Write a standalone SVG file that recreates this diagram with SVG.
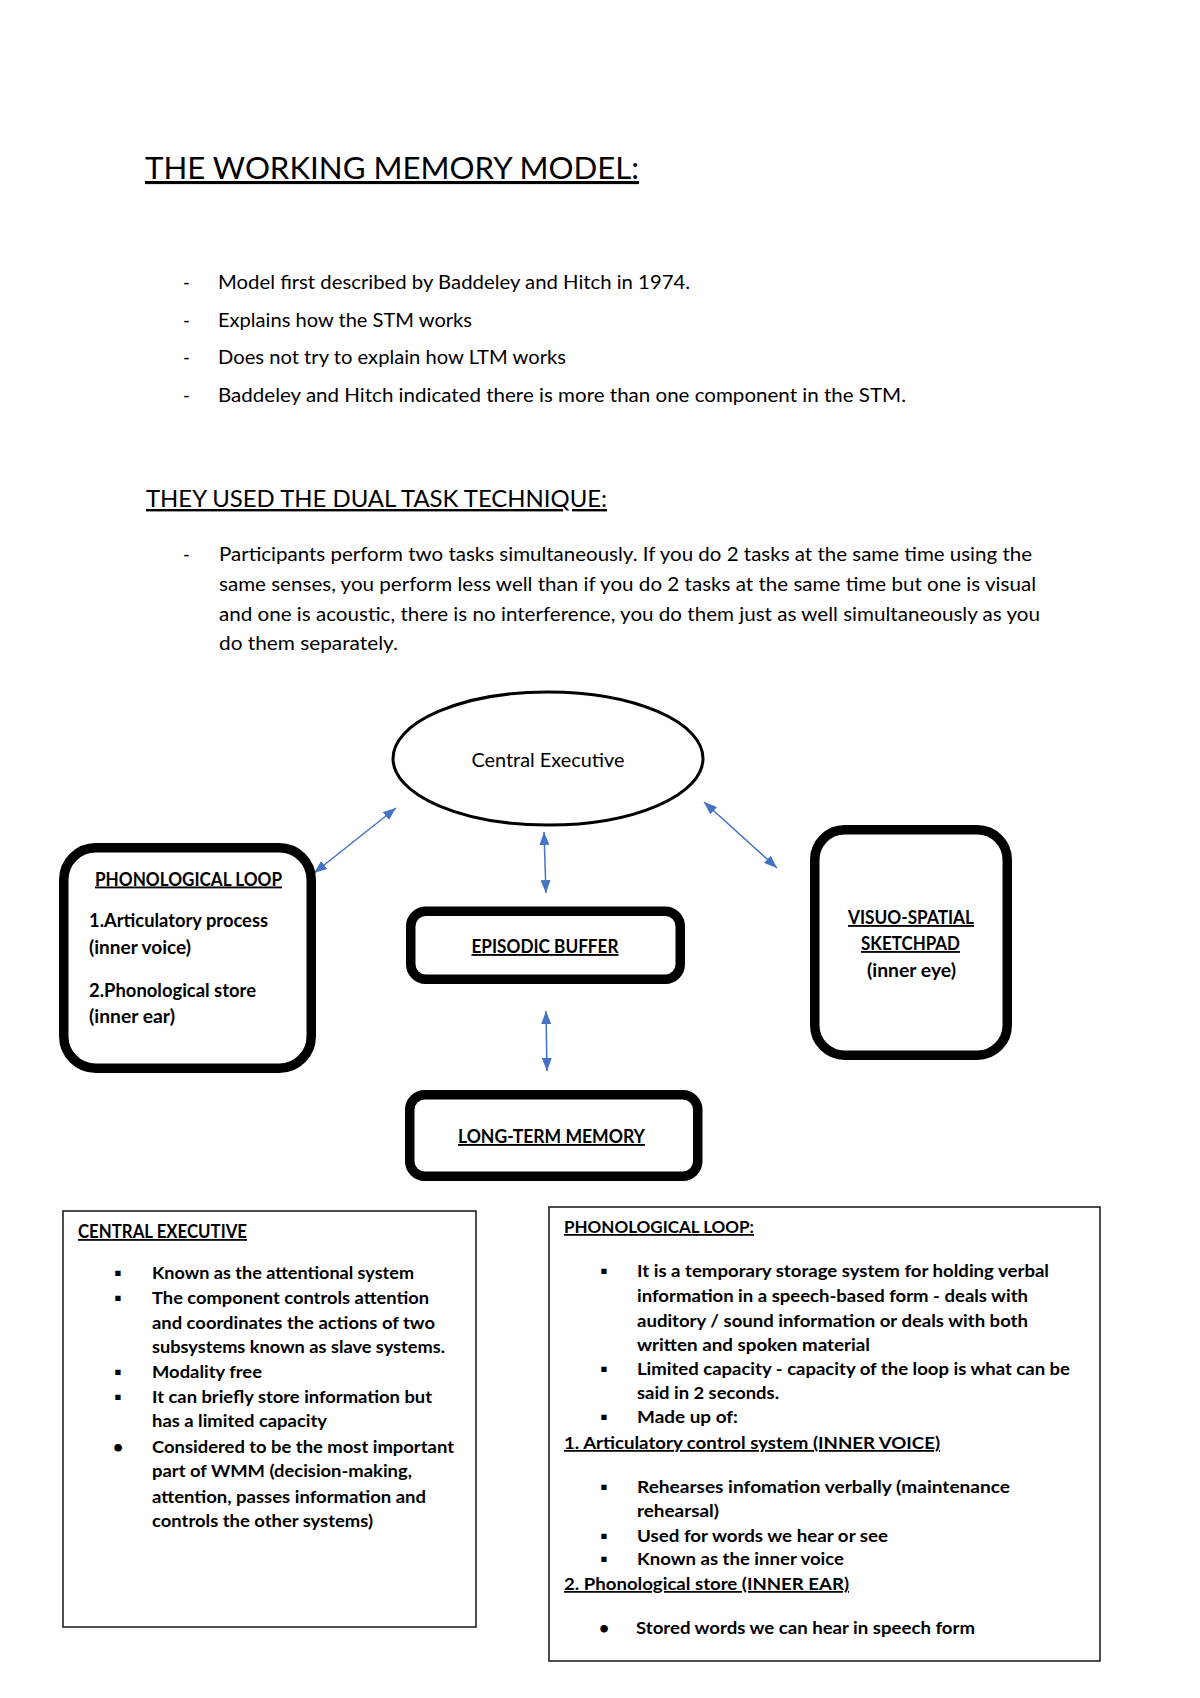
<svg xmlns="http://www.w3.org/2000/svg" width="1200" height="1698" viewBox="0 0 1200 1698">
<style>
text{font-family:Lato,"Liberation Sans",sans-serif;fill:#000}
.t{font-size:18.5px}
.b{font-weight:bold}
.u{text-decoration:underline}
.lbl{font-size:18.5px;font-weight:bold}
.bx{font-size:17.5px;font-weight:bold}
.thick{fill:#fff;stroke:#000;stroke-width:9.5}
.thin{fill:#fff;stroke:#222;stroke-width:1.6}
.con{stroke:#4472C4;stroke-width:1.5;fill:none;marker-start:url(#ah);marker-end:url(#ah)}
</style>
<defs>
<marker id="ah" markerUnits="userSpaceOnUse" markerWidth="13" markerHeight="10" refX="13" refY="5" orient="auto-start-reverse">
<path d="M0,0 L13,5 L0,10 Z" fill="#4472C4"/>
</marker>
</defs>
<rect width="1200" height="1698" fill="#fff"/>

<g id="intro">
<text x="145" y="179" class="u" style="font-size:31px" textLength="494" lengthAdjust="spacingAndGlyphs">THE WORKING MEMORY MODEL:</text>
<text x="183" y="289" class="t">-</text>
<text x="218" y="289" class="t" textLength="472" lengthAdjust="spacingAndGlyphs">Model first described by Baddeley and Hitch in 1974.</text>
<text x="183" y="327" class="t">-</text>
<text x="218" y="327" class="t" textLength="254" lengthAdjust="spacingAndGlyphs">Explains how the STM works</text>
<text x="183" y="364" class="t">-</text>
<text x="218" y="364" class="t" textLength="348" lengthAdjust="spacingAndGlyphs">Does not try to explain how LTM works</text>
<text x="183" y="402" class="t">-</text>
<text x="218" y="402" class="t" textLength="688" lengthAdjust="spacingAndGlyphs">Baddeley and Hitch indicated there is more than one component in the STM.</text>
<text x="146" y="507" class="u" style="font-size:24px" textLength="461" lengthAdjust="spacingAndGlyphs">THEY USED THE DUAL TASK TECHNIQUE:</text>
<text x="183" y="561" class="t">-</text>
<text x="219" y="561" class="t" textLength="813" lengthAdjust="spacingAndGlyphs">Participants perform two tasks simultaneously. If you do 2 tasks at the same time using the</text>
<text x="219" y="591" class="t" textLength="817" lengthAdjust="spacingAndGlyphs">same senses, you perform less well than if you do 2 tasks at the same time but one is visual</text>
<text x="219" y="621" class="t" textLength="821" lengthAdjust="spacingAndGlyphs">and one is acoustic, there is no interference, you do them just as well simultaneously as you</text>
<text x="219" y="650" class="t" textLength="179" lengthAdjust="spacingAndGlyphs">do them separately.</text>
</g>

<g id="connectors">
<line x1="396" y1="808" x2="314" y2="873" class="con"/>
<line x1="544" y1="832" x2="546" y2="893" class="con"/>
<line x1="546" y1="1011" x2="547" y2="1071" class="con"/>
<line x1="704" y1="802" x2="777" y2="868" class="con"/>
</g>

<g id="central-executive">
<ellipse cx="548" cy="758.5" rx="155" ry="66.5" fill="#fff" stroke="#000" stroke-width="3"/>
<text x="548" y="767" class="t" text-anchor="middle" textLength="153" lengthAdjust="spacingAndGlyphs">Central Executive</text>
</g>

<g id="phonological-loop">
<rect x="63.75" y="847.75" width="247.5" height="220.5" rx="32" class="thick"/>
<text x="95" y="885.5" class="lbl u" textLength="187" lengthAdjust="spacingAndGlyphs">PHONOLOGICAL LOOP</text>
<text x="89" y="927" class="lbl" textLength="179" lengthAdjust="spacingAndGlyphs">1.Articulatory process</text>
<text x="89" y="954" class="lbl" textLength="102" lengthAdjust="spacingAndGlyphs">(inner voice)</text>
<text x="89" y="997" class="lbl" textLength="167" lengthAdjust="spacingAndGlyphs">2.Phonological store</text>
<text x="89" y="1022.5" class="lbl" textLength="86" lengthAdjust="spacingAndGlyphs">(inner ear)</text>
</g>

<g id="episodic-buffer">
<rect x="410.75" y="911.25" width="269.5" height="68" rx="15" class="thick"/>
<text x="471.5" y="953" class="lbl u" textLength="147" lengthAdjust="spacingAndGlyphs">EPISODIC BUFFER</text>
</g>

<g id="long-term-memory">
<rect x="409.75" y="1094.75" width="288" height="81.5" rx="15" class="thick"/>
<text x="458" y="1143" class="lbl u" textLength="187" lengthAdjust="spacingAndGlyphs">LONG-TERM MEMORY</text>
</g>

<g id="visuo-spatial-sketchpad">
<rect x="814.75" y="829.75" width="192.5" height="225.5" rx="30" class="thick"/>
<text x="911" y="924" class="lbl u" text-anchor="middle" textLength="126" lengthAdjust="spacingAndGlyphs">VISUO-SPATIAL</text>
<text x="910.5" y="950" class="lbl u" text-anchor="middle" textLength="99" lengthAdjust="spacingAndGlyphs">SKETCHPAD</text>
<text x="911.5" y="976.5" class="lbl" text-anchor="middle" textLength="89" lengthAdjust="spacingAndGlyphs">(inner eye)</text>
</g>

<g id="central-executive-notes">
<rect x="63" y="1211" width="413" height="416" class="thin"/>
<text x="78" y="1238" class="bx u" style="font-size:18px" textLength="169" lengthAdjust="spacingAndGlyphs">CENTRAL EXECUTIVE</text>
<text x="118" y="1279" class="bx" text-anchor="middle">▪</text>
<text x="152" y="1279" class="bx" textLength="262" lengthAdjust="spacingAndGlyphs">Known as the attentional system</text>
<text x="118" y="1304" class="bx" text-anchor="middle">▪</text>
<text x="152" y="1304" class="bx" textLength="277" lengthAdjust="spacingAndGlyphs">The component controls attention</text>
<text x="152" y="1329" class="bx" textLength="283" lengthAdjust="spacingAndGlyphs">and coordinates the actions of two</text>
<text x="152" y="1353" class="bx" textLength="293" lengthAdjust="spacingAndGlyphs">subsystems known as slave systems.</text>
<text x="118" y="1378" class="bx" text-anchor="middle">▪</text>
<text x="152" y="1378" class="bx" textLength="110" lengthAdjust="spacingAndGlyphs">Modality free</text>
<text x="118" y="1403" class="bx" text-anchor="middle">▪</text>
<text x="152" y="1403" class="bx" textLength="280" lengthAdjust="spacingAndGlyphs">It can briefly store information but</text>
<text x="152" y="1427" class="bx" textLength="175" lengthAdjust="spacingAndGlyphs">has a limited capacity</text>
<text x="118" y="1453" class="bx" text-anchor="middle">•</text>
<text x="152" y="1453" class="bx" textLength="302" lengthAdjust="spacingAndGlyphs">Considered to be the most important</text>
<text x="152" y="1477" class="bx" textLength="260" lengthAdjust="spacingAndGlyphs">part of WMM (decision-making,</text>
<text x="152" y="1503" class="bx" textLength="274" lengthAdjust="spacingAndGlyphs">attention, passes information and</text>
<text x="152" y="1527" class="bx" textLength="221" lengthAdjust="spacingAndGlyphs">controls the other systems)</text>
</g>

<g id="phonological-loop-notes">
<rect x="549" y="1207" width="551" height="454" class="thin"/>
<text x="564" y="1233" class="bx u" textLength="190" lengthAdjust="spacingAndGlyphs">PHONOLOGICAL LOOP:</text>
<text x="604" y="1277" class="bx" text-anchor="middle">▪</text>
<text x="637" y="1277" class="bx" textLength="412" lengthAdjust="spacingAndGlyphs">It is a temporary storage system for holding verbal</text>
<text x="637" y="1302" class="bx" textLength="391" lengthAdjust="spacingAndGlyphs">information in a speech-based form - deals with</text>
<text x="637" y="1327" class="bx" textLength="391" lengthAdjust="spacingAndGlyphs">auditory / sound information or deals with both</text>
<text x="637" y="1351" class="bx" textLength="233" lengthAdjust="spacingAndGlyphs">written and spoken material</text>
<text x="604" y="1375" class="bx" text-anchor="middle">▪</text>
<text x="637" y="1375" class="bx" textLength="433" lengthAdjust="spacingAndGlyphs">Limited capacity - capacity of the loop is what can be</text>
<text x="637" y="1399" class="bx" textLength="142" lengthAdjust="spacingAndGlyphs">said in 2 seconds.</text>
<text x="604" y="1423" class="bx" text-anchor="middle">▪</text>
<text x="637" y="1423" class="bx" textLength="101" lengthAdjust="spacingAndGlyphs">Made up of:</text>
<text x="564" y="1449" class="bx u" textLength="376" lengthAdjust="spacingAndGlyphs">1. Articulatory control system (INNER VOICE)</text>
<text x="604" y="1493" class="bx" text-anchor="middle">▪</text>
<text x="637" y="1493" class="bx" textLength="373" lengthAdjust="spacingAndGlyphs">Rehearses infomation verbally (maintenance</text>
<text x="637" y="1517" class="bx" textLength="82" lengthAdjust="spacingAndGlyphs">rehearsal)</text>
<text x="604" y="1542" class="bx" text-anchor="middle">▪</text>
<text x="637" y="1542" class="bx" textLength="251" lengthAdjust="spacingAndGlyphs">Used for words we hear or see</text>
<text x="604" y="1565" class="bx" text-anchor="middle">▪</text>
<text x="637" y="1565" class="bx" textLength="207" lengthAdjust="spacingAndGlyphs">Known as the inner voice</text>
<text x="564" y="1590" class="bx u" textLength="285" lengthAdjust="spacingAndGlyphs">2. Phonological store (INNER EAR)</text>
<text x="604" y="1634" class="bx" text-anchor="middle">•</text>
<text x="636" y="1634" class="bx" textLength="339" lengthAdjust="spacingAndGlyphs">Stored words we can hear in speech form</text>
</g>
</svg>
